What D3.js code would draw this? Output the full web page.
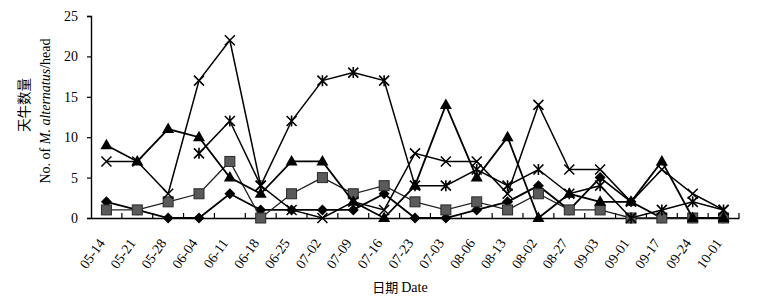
<!DOCTYPE html>
<html>
<head>
<meta charset="utf-8">
<script src="https://cdn.jsdelivr.net/npm/d3@7"></script>
<style>
  body { margin: 0; background: #fff; }
  svg { display: block; }
  .axis text { font-family: "Liberation Serif", "DejaVu Serif", serif; font-size: 14px; fill: #000; }
</style>
</head>
<body>
<svg id="chart"></svg>
<script>
// categories (sampling dates, as printed)
const dates = ['05-14', '05-21', '05-28', '06-04', '06-11', '06-18', '06-25', '07-02', '07-09', '07-16',
    '07-23', '07-03', '08-06', '08-13', '08-02', '08-27', '09-03', '09-01', '09-17', '09-24', '10-01'];

// series values (null = no point)
const diamondVals = [2, 1, 0, 0, 3, 1, 1, 1, 1, 3, 0, 0, 1, 2, 4, 1, 5, 2, 0, 0, 0];
const squareVals = [1, 1, 2, 3, 7, 0, 3, 5, 3, 4, 2, 1, 2, 1, 3, 1, 1, 0, 0, 0, 0];
const triangleVals = [9, 7, 11, 10, 5, 3, 7, 7, 2, 0, 4, 14, 5, 10, 0, 3, 2, 2, 7, 0, 0];
const crossVals = [7, 7, 3, 17, 22, 4, 1, 0, 2, 1, 8, 7, 7, 3, 14, 6, 6, 2, 6, 3, 1];
const starVals = [null, null, null, 8, 12, 4, 12, 17, 18, 17, 4, 4, 6, 4, 6, 3, 4, 0, 1, 2, 1];

const yTicks = [0, 5, 10, 15, 20, 25];

const W = 758, H = 299;
const margin = { left: 91, right: 739, top: 16, bottom: 218 };

const svg = d3.select('#chart').attr('width', W).attr('height', H);

const x = d3.scaleBand().domain(dates).range([margin.left, margin.right]);
const y = d3.scaleLinear().domain([0, 25]).range([margin.bottom, margin.top]);
const cx = d => x(d) + x.bandwidth() / 2;

// y axis
const yAxis = svg.append('g').attr('class', 'axis')
    .attr('transform', `translate(${margin.left},0)`)
    .call(d3.axisLeft(y).tickValues(yTicks).tickSize(4).tickPadding(9));
yAxis.select('.domain').attr('stroke', '#000').attr('stroke-width', 1.4);
yAxis.selectAll('.tick line').attr('stroke', '#000').attr('stroke-width', 1.2);
yAxis.selectAll('.tick text').attr('font-size', 15);

// x axis: labels from the band scale, ticks on band boundaries pointing up
const xAxis = svg.append('g').attr('class', 'axis')
    .attr('transform', `translate(0,${margin.bottom})`)
    .call(d3.axisBottom(x).tickSize(0).tickSizeOuter(0).tickPadding(0));
xAxis.select('.domain').attr('stroke', '#000').attr('stroke-width', 1.6);
xAxis.selectAll('.tick text')
    .attr('font-size', 13.5)
    .attr('text-anchor', 'end')
    .attr('y', 0).attr('dy', 0)
    .attr('transform', 'translate(-1,25) rotate(-55)');
xAxis.selectAll('.bound')
    .data(dates)
    .join('line')
    .attr('class', 'bound')
    .attr('x1', d => x(d) + x.bandwidth()).attr('x2', d => x(d) + x.bandwidth())
    .attr('y1', 0).attr('y2', -5)
    .attr('stroke', '#000').attr('stroke-width', 1.2);

// axis titles
svg.append('text')
    .attr('x', 400).attr('y', 292)
    .attr('text-anchor', 'middle')
    .attr('font-family', '"Noto Sans CJK SC", "Liberation Serif", serif')
    .attr('font-size', 13)
    .text('日期 ')
    .append('tspan')
    .attr('font-family', '"Liberation Serif", serif')
    .attr('font-size', 14)
    .text('Date');

svg.append('text')
    .attr('transform', 'translate(29,105) rotate(-90)')
    .attr('text-anchor', 'middle')
    .attr('font-family', '"Noto Sans CJK SC", sans-serif')
    .attr('font-size', 13.5)
    .text('天牛数量');

const yt = svg.append('text')
    .attr('transform', 'translate(50,111) rotate(-90)')
    .attr('text-anchor', 'middle')
    .attr('font-family', '"Liberation Serif", serif')
    .attr('font-size', 14);
yt.append('tspan').text('No. of ');
yt.append('tspan').attr('font-style', 'italic').text('M. alternatus');
yt.append('tspan').text('/head');

// series
const series = [
    { name: 'diamond', vals: diamondVals, line: '#000', lw: 1.8 },
    { name: 'square', vals: squareVals, line: '#222', lw: 1.3 },
    { name: 'triangle', vals: triangleVals, line: '#000', lw: 1.8 },
    { name: 'cross', vals: crossVals, line: '#000', lw: 1.5 },
    { name: 'star', vals: starVals, line: '#000', lw: 1.5 }
];

const line = d3.line()
    .defined(d => d.v !== null)
    .x(d => cx(d.date))
    .y(d => y(d.v));

series.forEach(s => {
    const pts = dates.map((d, i) => ({ date: d, v: s.vals[i] }));
    svg.append('path')
        .attr('d', line(pts))
        .attr('fill', 'none')
        .attr('stroke', s.line)
        .attr('stroke-width', s.lw);

    const g = svg.append('g');
    const mk = g.selectAll('g').data(pts.filter(p => p.v !== null)).join('g')
        .attr('transform', p => `translate(${cx(p.date)},${y(p.v)})`);

    if (s.name === 'diamond') {
        mk.append('path').attr('d', 'M0,-5.5L5.5,0L0,5.5L-5.5,0Z').attr('fill', '#000');
    } else if (s.name === 'square') {
        mk.append('rect').attr('x', -5).attr('y', -5).attr('width', 10).attr('height', 10)
            .attr('fill', '#5a5a5a').attr('stroke', '#2a2a2a').attr('stroke-width', 1);
    } else if (s.name === 'triangle') {
        mk.append('path').attr('d', 'M0,-6.5L6,4L-6,4Z').attr('fill', '#000');
    } else if (s.name === 'cross') {
        mk.append('path').attr('d', 'M-5,-5L5,5M5,-5L-5,5')
            .attr('stroke', '#000').attr('stroke-width', 1.5);
    } else {
        mk.append('path').attr('d', 'M-5,-5L5,5M5,-5L-5,5M0,-5.5L0,5.5')
            .attr('stroke', '#000').attr('stroke-width', 1.6);
    }
});
</script>
</body>
</html>
